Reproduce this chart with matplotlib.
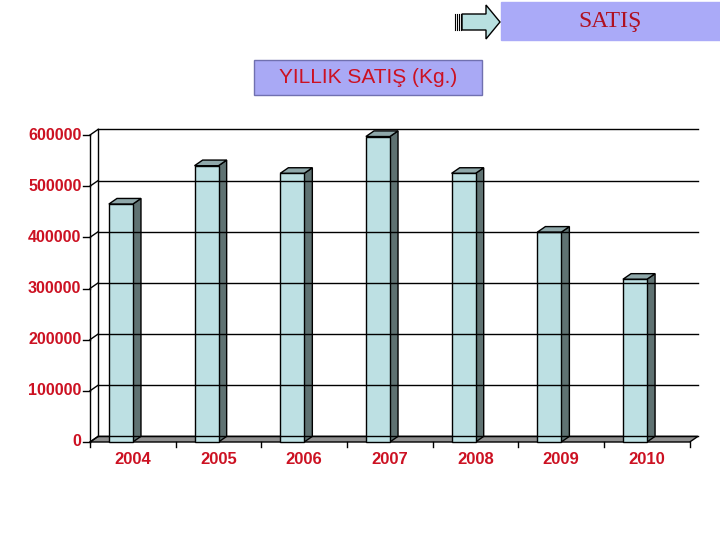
import matplotlib
matplotlib.use("Agg")
import matplotlib.pyplot as plt
from matplotlib.patches import Polygon, FancyArrow, Rectangle

years = ["2004", "2005", "2006", "2007", "2008", "2009", "2010"]
sales = [465000, 540000, 525000, 597000, 525000, 410000, 318000]
yticks = [0, 100000, 200000, 300000, 400000, 500000, 600000]

RED = "#cc1122"
plt.rcParams["font.family"] = ["Liberation Sans", "DejaVu Sans"]

fig = plt.figure(figsize=(7.2, 5.4), dpi=100)
ax = fig.add_axes([0.125, 1 - 442 / 540, 0.833, 307 / 540])
ax.set_xlim(-0.5, 6.5)
ax.set_ylim(0, 600000)
ax.axis("off")

dx, dy = 0.095, 11000   # depth offset (data units)
w = 0.28

# back wall grid + left wall
for t in yticks:
    ax.plot([-0.5 + dx, 6.5 + dx], [t + dy, t + dy], color="black", lw=1, clip_on=False)
    ax.plot([-0.5, -0.5 + dx], [t, t + dy], color="black", lw=1, clip_on=False)
    ax.plot([-0.58, -0.5], [t, t], color="black", lw=1, clip_on=False)
    ax.text(-0.6, t, f"{t}", color=RED, fontweight="bold", fontsize=11.5,
            ha="right", va="center")
ax.plot([-0.5, -0.5], [0, 600000], color="black", lw=1, clip_on=False)
ax.plot([-0.5 + dx, -0.5 + dx], [dy, 600000 + dy], color="black", lw=1, clip_on=False)

# floor
ax.add_patch(Polygon([(-0.5, 0), (6.5, 0), (6.5 + dx, dy), (-0.5 + dx, dy)],
                     closed=True, facecolor="#909090", edgecolor="black", lw=1, clip_on=False))
for i in range(8):
    ax.plot([i - 0.5, i - 0.5], [0, -9000], color="black", lw=1, clip_on=False)

# bars
for i, (yr, v) in enumerate(zip(years, sales)):
    x0, x1 = i - w, i
    ax.add_patch(Polygon([(x1, 0), (x1 + dx, dy), (x1 + dx, v + dy), (x1, v)],
                         closed=True, facecolor="#5f7272", edgecolor="black", lw=1, clip_on=False))
    ax.add_patch(Polygon([(x0, v), (x1, v), (x1 + dx, v + dy), (x0 + dx, v + dy)],
                         closed=True, facecolor="#8fa8aa", edgecolor="black", lw=1, clip_on=False))
    ax.bar(x0, v, width=w, align="edge", color="#bde0e3", edgecolor="black", lw=1, clip_on=False)
    ax.text(i, -20000, yr, color=RED, fontweight="bold", fontsize=12, ha="center", va="top")

# header boxes (figure pixel coords converted)
def box(x, y, wpx, hpx, color, edge):
    fig.patches.append(Rectangle((x / 720, 1 - (y + hpx) / 540), wpx / 720, hpx / 540,
                                 transform=fig.transFigure, facecolor=color, edgecolor=edge, lw=1))

box(254, 60, 228, 35, "#a9a9f5", "#7070b0")
fig.text(368 / 720, 1 - 78 / 540, "YILLIK SATIŞ (Kg.)", color=RED, fontsize=15,
         ha="center", va="center")
box(501, 2, 219, 38, "#aaaaf8", "#aaaaf8")
fig.text(610 / 720, 1 - 21 / 540, "SATIŞ", color="#b01020", fontsize=17,
         family=["Liberation Serif", "DejaVu Serif"], ha="center", va="center")

arrow = FancyArrow(462 / 720, 1 - 22 / 540, 38 / 720, 0, width=16 / 540, head_width=34 / 540,
                   head_length=14 / 720, length_includes_head=True, transform=fig.transFigure,
                   facecolor="#b8e0e0", edgecolor="black", lw=1)
fig.patches.append(arrow)
for k in range(4):
    fig.lines.append(plt.Line2D([(455 + k * 2) / 720] * 2, [1 - 30 / 540, 1 - 14 / 540],
                                transform=fig.transFigure, color="black", lw=0.8))

fig.savefig("out.png", dpi=100)
